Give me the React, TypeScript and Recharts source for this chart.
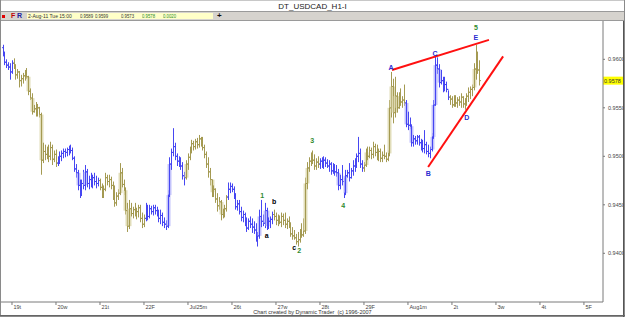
import React from 'react';
import { ComposedChart, Bar, XAxis, YAxis, ReferenceLine, ReferenceDot } from 'recharts';

// ---- data (hourly USDCAD bars, 18-Jul-11 19:00 .. 2-Aug-11 15:00) ----
const firstOpen = 0.9612;
const highs = [
  0.9615, 0.9608, 0.9600, 0.9597, 0.9596, 0.9599, 0.9601, 0.9595, 0.9590, 0.9588,
  0.9584, 0.9586, 0.9589, 0.9591, 0.9583, 0.9570, 0.9565, 0.9553, 0.9556, 0.9554,
  0.9551, 0.9545, 0.9514, 0.9512, 0.9510, 0.9512, 0.9515, 0.9512, 0.9506, 0.9507,
  0.9500, 0.9505, 0.9506, 0.9508, 0.9508, 0.9509, 0.9511, 0.9512, 0.9509, 0.9500,
  0.9492, 0.9486, 0.9476, 0.9476, 0.9486, 0.9491, 0.9487, 0.9480, 0.9483, 0.9481,
  0.9483, 0.9480, 0.9478, 0.9477, 0.9472, 0.9470, 0.9483, 0.9481, 0.9481, 0.9479,
  0.9474, 0.9470, 0.9463, 0.9466, 0.9493, 0.9488, 0.9476, 0.9468, 0.9452, 0.9455,
  0.9452, 0.9448, 0.9452, 0.9447, 0.9450, 0.9450, 0.9442, 0.9440, 0.9452, 0.9450,
  0.9450, 0.9449, 0.9450, 0.9450, 0.9448, 0.9445, 0.9445, 0.9442, 0.9437, 0.9434,
  0.9465, 0.9499, 0.9508, 0.9529, 0.9514, 0.9503, 0.9500, 0.9499, 0.9494, 0.9484,
  0.9496, 0.9503, 0.9510, 0.9517, 0.9516, 0.9518, 0.9519, 0.9522, 0.9520, 0.9520,
  0.9512, 0.9505, 0.9499, 0.9488, 0.9476, 0.9470, 0.9467, 0.9462, 0.9458, 0.9455,
  0.9446, 0.9450, 0.9460, 0.9473, 0.9473, 0.9472, 0.9469, 0.9462, 0.9455, 0.9455,
  0.9448, 0.9444, 0.9442, 0.9437, 0.9436, 0.9438, 0.9436, 0.9433, 0.9431, 0.9422,
  0.9445, 0.9455, 0.9440, 0.9452, 0.9447, 0.9437, 0.9438, 0.9443, 0.9445, 0.9442,
  0.9440, 0.9439, 0.9442, 0.9441, 0.9442, 0.9436, 0.9438, 0.9432, 0.9427, 0.9424,
  0.9420, 0.9422, 0.9425, 0.9431, 0.9436, 0.9478, 0.9494, 0.9499, 0.9504, 0.9506,
  0.9502, 0.9498, 0.9500, 0.9498, 0.9499, 0.9500, 0.9499, 0.9497, 0.9496, 0.9494,
  0.9493, 0.9492, 0.9491, 0.9487, 0.9481, 0.9491, 0.9478, 0.9486, 0.9486, 0.9493,
  0.9488, 0.9496, 0.9498, 0.9503, 0.9520, 0.9508, 0.9496, 0.9494, 0.9508, 0.9510,
  0.9510, 0.9509, 0.9515, 0.9513, 0.9512, 0.9508, 0.9508, 0.9505, 0.9512, 0.9504,
  0.9506, 0.9558, 0.9587, 0.9580, 0.9582, 0.9566, 0.9566, 0.9570, 0.9562, 0.9574,
  0.9558, 0.9546, 0.9540, 0.9533, 0.9522, 0.9521, 0.9522, 0.9522, 0.9518, 0.9517,
  0.9527, 0.9515, 0.9512, 0.9510, 0.9524, 0.9558, 0.9604, 0.9602, 0.9595, 0.9589,
  0.9582, 0.9582, 0.9577, 0.9568, 0.9563, 0.9562, 0.9563, 0.9563, 0.9561, 0.9562,
  0.9565, 0.9562, 0.9560, 0.9565, 0.9571, 0.9572, 0.9574, 0.9596, 0.9615, 0.9608,
  0.9599,
];
const lows = [
  0.9603, 0.9594, 0.9591, 0.9589, 0.9579, 0.9585, 0.9590, 0.9579, 0.9580, 0.9571,
  0.9572, 0.9575, 0.9578, 0.9580, 0.9563, 0.9558, 0.9543, 0.9545, 0.9541, 0.9541,
  0.9540, 0.9481, 0.9493, 0.9496, 0.9497, 0.9494, 0.9496, 0.9491, 0.9494, 0.9489,
  0.9490, 0.9492, 0.9495, 0.9498, 0.9499, 0.9500, 0.9501, 0.9503, 0.9496, 0.9484,
  0.9478, 0.9465, 0.9457, 0.9459, 0.9466, 0.9465, 0.9468, 0.9466, 0.9468, 0.9467,
  0.9470, 0.9467, 0.9469, 0.9465, 0.9457, 0.9457, 0.9464, 0.9470, 0.9468, 0.9466,
  0.9455, 0.9448, 0.9449, 0.9455, 0.9460, 0.9468, 0.9460, 0.9440, 0.9422, 0.9425,
  0.9438, 0.9436, 0.9438, 0.9435, 0.9437, 0.9432, 0.9426, 0.9427, 0.9433, 0.9434,
  0.9436, 0.9440, 0.9439, 0.9440, 0.9438, 0.9432, 0.9430, 0.9428, 0.9426, 0.9424,
  0.9426, 0.9458, 0.9486, 0.9500, 0.9496, 0.9490, 0.9489, 0.9486, 0.9476, 0.9470,
  0.9476, 0.9486, 0.9496, 0.9503, 0.9506, 0.9507, 0.9508, 0.9509, 0.9510, 0.9506,
  0.9498, 0.9488, 0.9478, 0.9470, 0.9458, 0.9458, 0.9452, 0.9443, 0.9445, 0.9434,
  0.9436, 0.9437, 0.9443, 0.9455, 0.9462, 0.9463, 0.9456, 0.9445, 0.9444, 0.9440,
  0.9433, 0.9432, 0.9428, 0.9422, 0.9424, 0.9426, 0.9421, 0.9420, 0.9412, 0.9407,
  0.9415, 0.9427, 0.9428, 0.9426, 0.9424, 0.9425, 0.9426, 0.9430, 0.9434, 0.9429,
  0.9428, 0.9430, 0.9427, 0.9429, 0.9426, 0.9425, 0.9426, 0.9417, 0.9414, 0.9414,
  0.9409, 0.9407, 0.9411, 0.9416, 0.9417, 0.9420, 0.9466, 0.9484, 0.9490, 0.9492,
  0.9486, 0.9486, 0.9488, 0.9487, 0.9488, 0.9487, 0.9489, 0.9488, 0.9484, 0.9481,
  0.9482, 0.9480, 0.9479, 0.9465, 0.9466, 0.9470, 0.9457, 0.9460, 0.9478, 0.9474,
  0.9477, 0.9480, 0.9484, 0.9488, 0.9494, 0.9488, 0.9484, 0.9484, 0.9489, 0.9496,
  0.9498, 0.9497, 0.9498, 0.9500, 0.9496, 0.9495, 0.9494, 0.9494, 0.9497, 0.9494,
  0.9495, 0.9500, 0.9540, 0.9534, 0.9540, 0.9545, 0.9549, 0.9552, 0.9550, 0.9552,
  0.9530, 0.9527, 0.9528, 0.9510, 0.9510, 0.9512, 0.9512, 0.9511, 0.9506, 0.9504,
  0.9503, 0.9502, 0.9499, 0.9498, 0.9505, 0.9518, 0.9552, 0.9585, 0.9571, 0.9574,
  0.9566, 0.9567, 0.9566, 0.9558, 0.9553, 0.9550, 0.9551, 0.9551, 0.9550, 0.9552,
  0.9550, 0.9550, 0.9548, 0.9552, 0.9556, 0.9559, 0.9562, 0.9568, 0.9579, 0.9585,
  0.9573,
];
const closes = [
  0.9606, 0.9597, 0.9594, 0.9592, 0.9587, 0.9596, 0.9593, 0.9584, 0.9587, 0.9578,
  0.9580, 0.9583, 0.9586, 0.9582, 0.9567, 0.9560, 0.9546, 0.9549, 0.9545, 0.9550,
  0.9543, 0.9496, 0.9505, 0.9502, 0.9507, 0.9500, 0.9509, 0.9497, 0.9502, 0.9493,
  0.9498, 0.9500, 0.9503, 0.9505, 0.9504, 0.9507, 0.9508, 0.9506, 0.9498, 0.9487,
  0.9483, 0.9470, 0.9462, 0.9472, 0.9470, 0.9484, 0.9472, 0.9476, 0.9471, 0.9478,
  0.9474, 0.9472, 0.9475, 0.9468, 0.9461, 0.9466, 0.9478, 0.9474, 0.9476, 0.9470,
  0.9460, 0.9452, 0.9459, 0.9462, 0.9483, 0.9471, 0.9465, 0.9444, 0.9428, 0.9446,
  0.9441, 0.9445, 0.9440, 0.9443, 0.9447, 0.9436, 0.9430, 0.9436, 0.9447, 0.9438,
  0.9446, 0.9443, 0.9447, 0.9444, 0.9441, 0.9436, 0.9439, 0.9432, 0.9430, 0.9428,
  0.9460, 0.9492, 0.9504, 0.9510, 0.9500, 0.9495, 0.9493, 0.9490, 0.9480, 0.9478,
  0.9492, 0.9499, 0.9507, 0.9513, 0.9510, 0.9515, 0.9512, 0.9518, 0.9514, 0.9509,
  0.9502, 0.9492, 0.9484, 0.9476, 0.9463, 0.9466, 0.9456, 0.9449, 0.9453, 0.9440,
  0.9443, 0.9446, 0.9458, 0.9466, 0.9469, 0.9466, 0.9460, 0.9448, 0.9451, 0.9443,
  0.9437, 0.9440, 0.9431, 0.9426, 0.9433, 0.9430, 0.9427, 0.9424, 0.9417, 0.9418,
  0.9438, 0.9433, 0.9431, 0.9444, 0.9428, 0.9433, 0.9435, 0.9440, 0.9438, 0.9434,
  0.9436, 0.9432, 0.9438, 0.9434, 0.9430, 0.9433, 0.9428, 0.9420, 0.9418, 0.9416,
  0.9412, 0.9414, 0.9420, 0.9419, 0.9423, 0.9472, 0.9488, 0.9495, 0.9497, 0.9496,
  0.9490, 0.9494, 0.9492, 0.9495, 0.9491, 0.9496, 0.9493, 0.9490, 0.9492, 0.9485,
  0.9489, 0.9484, 0.9483, 0.9470, 0.9476, 0.9474, 0.9462, 0.9480, 0.9483, 0.9478,
  0.9485, 0.9490, 0.9494, 0.9500, 0.9503, 0.9492, 0.9488, 0.9491, 0.9504, 0.9500,
  0.9506, 0.9502, 0.9510, 0.9504, 0.9500, 0.9505, 0.9498, 0.9501, 0.9500, 0.9497,
  0.9503, 0.9550, 0.9572, 0.9545, 0.9562, 0.9550, 0.9560, 0.9556, 0.9558, 0.9555,
  0.9533, 0.9532, 0.9531, 0.9514, 0.9518, 0.9516, 0.9520, 0.9514, 0.9510, 0.9508,
  0.9512, 0.9505, 0.9503, 0.9507, 0.9520, 0.9553, 0.9594, 0.9590, 0.9576, 0.9578,
  0.9570, 0.9574, 0.9569, 0.9561, 0.9559, 0.9553, 0.9560, 0.9555, 0.9558, 0.9556,
  0.9561, 0.9554, 0.9556, 0.9562, 0.9566, 0.9569, 0.9571, 0.9590, 0.9599, 0.9589,
  0.9578,
];
// bar-index ranges drawn in the "down" colour
const downSegments: [number, number][] = [[0, 5], [30, 52], [78, 99], [123, 147], [173, 196], [220, 243]];

const dayTicks = [5, 29, 53, 77, 101, 125, 149, 173, 197, 221, 245, 269, 293, 317];
const dayLabels = ['19t', '20w', '21t', '22F', 'Jul25m', '26t', '27w', '28t', '29F', 'Aug1m', '2t', '3w', '4t', '5F'];
const priceTicks = [0.94, 0.945, 0.95, 0.955, 0.96];
const lastPrice = 0.9578;

const waveLabels = [
  { text: '1', i: 141.5, p: 0.9460, kind: 'num' },
  { text: '2', i: 161.7, p: 0.9403, kind: 'num' },
  { text: '3', i: 168.8, p: 0.9516, kind: 'num' },
  { text: '4', i: 185.7, p: 0.9449, kind: 'num' },
  { text: '5', i: 258.1, p: 0.9633, kind: 'num' },
  { text: 'a', i: 144, p: 0.9418, kind: 'sub' },
  { text: 'b', i: 148, p: 0.9453, kind: 'sub' },
  { text: 'c', i: 159, p: 0.9406, kind: 'sub' },
  { text: 'A', i: 211.8, p: 0.9592, kind: 'tri' },
  { text: 'B', i: 232.1, p: 0.9482, kind: 'tri' },
  { text: 'C', i: 235.8, p: 0.9606, kind: 'tri' },
  { text: 'D', i: 253.1, p: 0.9540, kind: 'tri' },
  { text: 'E', i: 258, p: 0.9622, kind: 'tri' },
];
const upperLine = [{ i: 212.3, p: 0.9589 }, { i: 265.2, p: 0.962 }];
const lowerLine = [{ i: 232, p: 0.9489 }, { i: 272.9, p: 0.9603 }];

const headerInfo = { date: '2-Aug-11 Tue 15:00', open: '0.9589', high: '0.9599', low: '0.9573', close: '0.9578', change: '0.0020' };

// ---- styles ----
const BLUE = '#4646f2';
const BLUE_LIGHT = '#b9b9fa';
const OLIVE = '#a49a52';
const OLIVE_LIGHT = '#dcd7ae';
const FONT = '"Liberation Sans", Arial, sans-serif';
const labelColors: Record<string, string> = { num: '#2f8a2f', sub: '#000000', tri: '#2b2bd0' };

const isDown = (i: number) => downSegments.some(([a, b]) => i >= a && i <= b);

const OhlcShape = (props: any) => {
  const { x, y, width, height, payload } = props;
  if (!payload || !isFinite(x) || !isFinite(y)) return <g />;
  const top = Math.min(y, y + height);
  const bot = Math.max(y, y + height);
  const span = payload.high - payload.low || 1e-9;
  const py = (v: number) => top + ((payload.high - v) / span) * (bot - top);
  const cx = Math.round(x + width / 2) + 0.5;
  const color = payload.down ? BLUE : OLIVE;
  const light = payload.down ? BLUE_LIGHT : OLIVE_LIGHT;
  const yo = py(payload.open);
  const yc = py(payload.close);
  const body = Math.abs(payload.close - payload.open) >= 0.0012;
  return (
    <g>
      {body && (
        <rect x={cx - 2} y={Math.min(yo, yc)} width={4} height={Math.abs(yc - yo)} fill={light} opacity={0.85} />
      )}
      <line x1={cx} x2={cx} y1={top} y2={bot} stroke={color} strokeWidth={1} />
      <line x1={cx - 1.5} x2={cx} y1={yo} y2={yo} stroke={color} strokeWidth={1} />
      <line x1={cx} x2={cx + 1.5} y1={yc} y2={yc} stroke={color} strokeWidth={1} />
    </g>
  );
};

const XTick = (props: any) => {
  const { x, y, payload } = props;
  const idx = dayTicks.indexOf(payload.value);
  return (
    <text x={x + 1.5} y={y + 2} fontSize={5.5} fontFamily={FONT} fill="#444" textAnchor="start">
      {idx >= 0 ? dayLabels[idx] : ''}
    </text>
  );
};

const YTick = (props: any) => {
  const { x, y, payload } = props;
  return (
    <text x={x + 1} y={y + 2} fontSize={5.5} fontFamily={FONT} fill="#444" textAnchor="start">
      {Number(payload.value).toFixed(4)}
    </text>
  );
};

const LastPriceLabel = (props: any) => {
  const vb = props.viewBox || {};
  const rx = (vb.x || 0) + (vb.width || 0);
  const ry = vb.y || 0;
  return (
    <g>
      <rect x={rx} y={ry - 4} width={21} height={8} fill="#ffff00" />
      <text x={rx + 1} y={ry + 2} fontSize={5.5} fontFamily={FONT} fill="#333">
        {lastPrice.toFixed(4)}
      </text>
    </g>
  );
};

const infoSpan = (left: number, color: string, text: string, squeeze: number) => (
  <span
    style={{
      position: 'absolute',
      left,
      top: 0,
      color,
      display: 'inline-block',
      transform: `scaleX(${squeeze})`,
      transformOrigin: 'left center',
    }}
  >
    {text}
  </span>
);

export default function App() {
  const data = highs.map((h, i) => ({
    i,
    range: [lows[i], h],
    high: h,
    low: lows[i],
    open: i === 0 ? firstOpen : closes[i - 1],
    close: closes[i],
    down: isDown(i),
  }));

  return (
    <div
      style={{
        position: 'absolute',
        left: 0,
        top: 0,
        width: 625,
        height: 317,
        background: '#ffffff',
        overflow: 'hidden',
        fontFamily: FONT,
      }}
    >
      {/* title */}
      <div style={{ position: 'absolute', left: 0, top: 0, width: 625, height: 11, borderTop: '1px solid #c8c8c8', boxSizing: 'border-box', textAlign: 'center', fontSize: 8, lineHeight: '11px', color: '#222' }}>
        DT_USDCAD_H1-I
      </div>
      {/* toolbar */}
      <div style={{ position: 'absolute', left: 0, top: 11, width: 625, height: 10, background: '#d6d3ce', borderTop: '1px solid #9a9a9a', borderBottom: '1px solid #9a9a9a', boxSizing: 'border-box' }}>
        <div style={{ position: 'absolute', left: 2, top: 3, width: 3, height: 3, background: '#e00000' }} />
        <div style={{ position: 'absolute', left: 11, top: 0, fontSize: 7, lineHeight: '8px', fontWeight: 'bold', color: '#c00000' }}>F</div>
        <div style={{ position: 'absolute', left: 17, top: 0, fontSize: 7, lineHeight: '8px', fontWeight: 'bold', color: '#2020a0' }}>R</div>
        <div style={{ position: 'absolute', left: 27, top: 1, width: 186, height: 6, background: '#ffffc8', fontSize: 5, lineHeight: '6px', whiteSpace: 'nowrap' }}>
          {infoSpan(1, '#333', headerInfo.date, 1.0)}
          {infoSpan(53, '#333', headerInfo.open, 0.85)}
          {infoSpan(68, '#333', headerInfo.high, 0.85)}
          {infoSpan(94, '#333', headerInfo.low, 0.85)}
          {infoSpan(115, '#2a8a2a', headerInfo.close, 0.85)}
          {infoSpan(136, '#2a8a2a', headerInfo.change, 0.85)}
        </div>
        <div style={{ position: 'absolute', left: 217, top: -1, fontSize: 8, lineHeight: '9px', fontWeight: 'bold', color: '#111' }}>+</div>
      </div>

      {/* chart */}
      <div style={{ position: 'absolute', left: 0, top: 21 }}>
        <ComposedChart width={625} height={281 + 15} data={data} margin={{ top: 0, right: 0, bottom: 0, left: 1 }}>
          <XAxis
            dataKey="i"
            type="number"
            domain={[-1, 327.4]}
            ticks={dayTicks}
            interval={0}
            allowDataOverflow
            height={15}
            tickSize={3}
            axisLine={{ stroke: '#7a7a7a' }}
            tickLine={{ stroke: '#7a7a7a' }}
            tick={<XTick />}
          />
          <YAxis
            orientation="right"
            width={22}
            type="number"
            domain={[0.93498, 0.96395]}
            ticks={priceTicks}
            interval={0}
            allowDataOverflow
            tickSize={2}
            axisLine={{ stroke: '#7a7a7a' }}
            tickLine={{ stroke: '#7a7a7a' }}
            tick={<YTick />}
          />
          <Bar dataKey="range" shape={OhlcShape} isAnimationActive={false} />
          <ReferenceLine
            segment={[{ x: upperLine[0].i, y: upperLine[0].p }, { x: upperLine[1].i, y: upperLine[1].p }]}
            stroke="#ff1010"
            strokeWidth={2}
            ifOverflow="visible"
          />
          <ReferenceLine
            segment={[{ x: lowerLine[0].i, y: lowerLine[0].p }, { x: lowerLine[1].i, y: lowerLine[1].p }]}
            stroke="#ff1010"
            strokeWidth={2}
            ifOverflow="visible"
          />
          <ReferenceLine y={lastPrice} stroke="none" ifOverflow="visible" label={(p: any) => <LastPriceLabel {...p} />} />
          {waveLabels.map((w) => (
            <ReferenceDot
              key={w.text}
              x={w.i}
              y={w.p}
              r={1}
              fill="none"
              stroke="none"
              ifOverflow="visible"
              label={{ value: w.text, position: 'center', fill: labelColors[w.kind], fontSize: 7, fontFamily: FONT, fontWeight: 'bold' }}
            />
          ))}
        </ComposedChart>
      </div>

      {/* footer */}
      <div style={{ position: 'absolute', left: 0, top: 308, width: 625, textAlign: 'center', fontSize: 5.5, lineHeight: '8px', color: '#333' }}>
        Chart created by Dynamic Trader&nbsp; (c) 1996-2007
      </div>
      {/* window frame */}
      <div style={{ position: 'absolute', left: 0, top: 0, width: 625, height: 317, border: '1px solid #8a8a8a', borderTop: 'none', boxSizing: 'border-box', pointerEvents: 'none' }} />
      <div style={{ position: 'absolute', left: 623, top: 21, width: 1, height: 296, background: '#555' }} />
      <div style={{ position: 'absolute', left: 0, top: 315, width: 625, height: 1, background: '#666' }} />
    </div>
  );
}
